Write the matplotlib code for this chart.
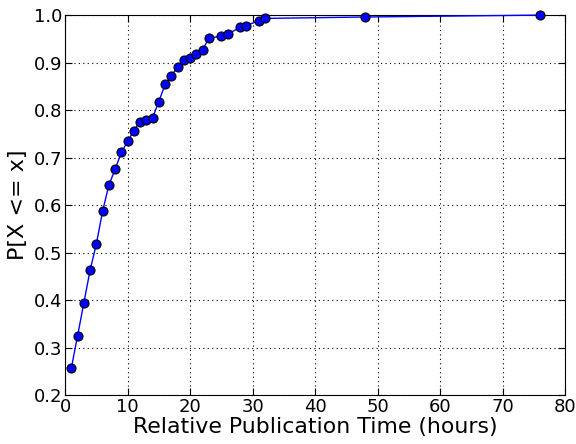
import matplotlib
matplotlib.use("Agg")
import matplotlib.pyplot as plt

# relative publication time (hours) and empirical CDF value
hours = [1, 2, 3, 4, 5, 6, 7, 8, 9, 10, 11, 12, 13, 14, 15, 16, 17, 18, 19, 20,
         21, 22, 23, 25, 26, 28, 29, 31, 32, 48, 76]
cdf = [0.257, 0.325, 0.394, 0.463, 0.518, 0.587, 0.642, 0.675, 0.711, 0.734,
       0.757, 0.776, 0.780, 0.784, 0.818, 0.854, 0.872, 0.891, 0.905, 0.909,
       0.919, 0.927, 0.951, 0.956, 0.960, 0.974, 0.978, 0.988, 0.993, 0.996, 1.0]

fig = plt.figure(figsize=(5.76, 4.44), dpi=100)
ax = fig.add_axes([0.113, 0.110, 0.868, 0.856])
ax.plot(hours, cdf, "o-", color="blue", lw=1, ms=6.5, mec="black", mew=0.8,
        zorder=3, clip_on=False)
ax.set_xlim(0, 80); ax.set_ylim(0.2, 1.0)
ax.set_xticks(range(0, 81, 10))
ax.set_yticks([0.2 + 0.1 * i for i in range(9)])
ax.set_yticklabels([f"{0.2 + 0.1 * i:.1f}" for i in range(9)])
ax.grid(True, color="black", linestyle=(0, (1, 3)), linewidth=0.8)
ax.tick_params(direction="in", top=True, right=True, labelsize=13, length=5, pad=2)
ax.set_xlabel("Relative Publication Time (hours)", fontsize=15.8, labelpad=1)
ax.set_ylabel("P[X <= x]", fontsize=16, labelpad=4)
fig.savefig("out.png", dpi=100)
